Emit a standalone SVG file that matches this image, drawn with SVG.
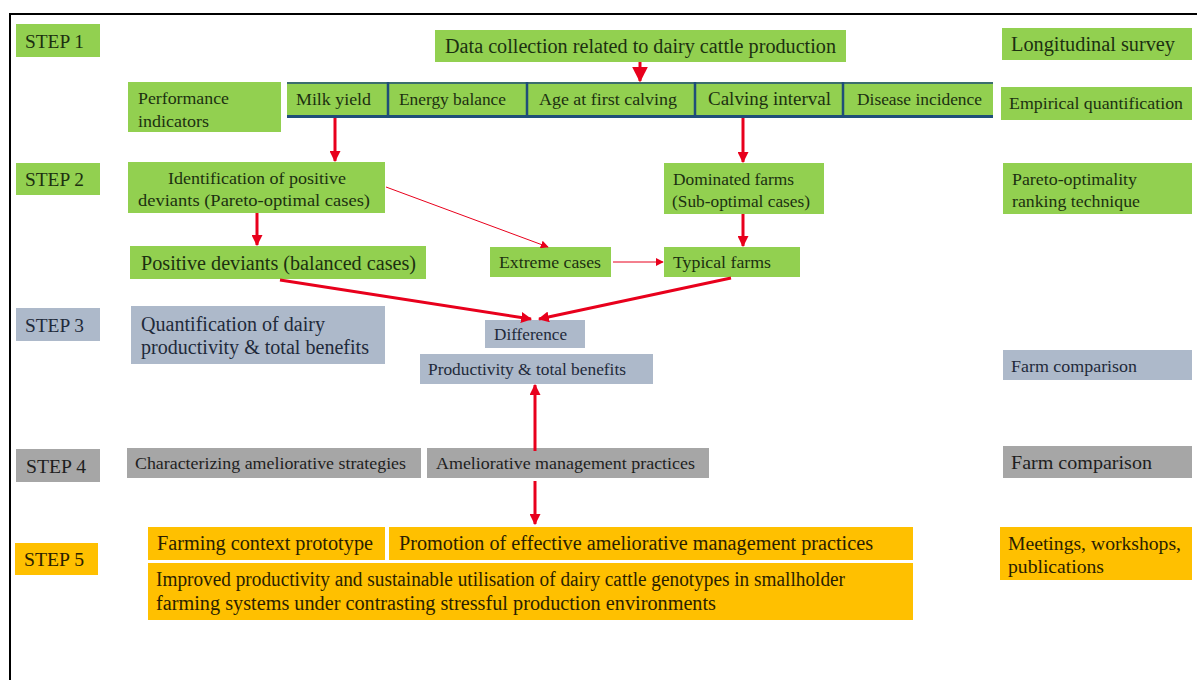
<svg xmlns="http://www.w3.org/2000/svg" width="1199" height="680" viewBox="0 0 1199 680">
<defs>
<style>
.g{fill:#92d050}
.b{fill:#adb9ca}
.k{fill:#a6a6a6}
.o{fill:#ffc000}
text{font-family:"Liberation Serif","Times New Roman",serif;fill:#1c3010}
.tb{fill:#1f2a3a}
.tk{fill:#1e1e1e}
.to{fill:#2a1e00}
.ln{stroke:#e8001c;fill:none}
.thick{stroke-width:3}
.thin{stroke-width:1}
.blue{stroke:#1f4e79;fill:none}
</style>
<marker id="ah" viewBox="0 0 10 10" refX="9" refY="5" markerWidth="11" markerHeight="11" markerUnits="userSpaceOnUse" orient="auto">
<path d="M0,0 L10,5 L0,10 z" fill="#e8001c"/>
</marker>
<marker id="ahs" viewBox="0 0 10 10" refX="9" refY="5" markerWidth="8" markerHeight="8" markerUnits="userSpaceOnUse" orient="auto">
<path d="M0,0 L10,5 L0,10 z" fill="#e8001c"/>
</marker>
<marker id="ahb" viewBox="0 0 10 10" refX="9" refY="5" markerWidth="16" markerHeight="16" markerUnits="userSpaceOnUse" orient="auto">
<path d="M0,0 L10,5 L0,10 z" fill="#e8001c"/>
</marker>
</defs>
<rect width="1199" height="680" fill="#ffffff"/>
<path d="M10,690 L10,14 L1197,14" stroke="#000" stroke-width="2" fill="none"/>

<g id="step1"><rect class="g" x="16" y="24" width="84" height="33"/><text x="25" y="48" font-size="19" textLength="59" lengthAdjust="spacingAndGlyphs">STEP 1</text></g>
<g id="data"><rect class="g" x="435" y="30" width="411" height="32"/><text x="445" y="53" font-size="20" textLength="391" lengthAdjust="spacingAndGlyphs">Data collection related to dairy cattle production</text></g>
<g id="longitudinal"><rect class="g" x="1002" y="28" width="190" height="32"/><text x="1011" y="51" font-size="20" textLength="164" lengthAdjust="spacingAndGlyphs">Longitudinal survey</text></g>

<g id="performance"><rect class="g" x="128" y="82" width="153" height="50"/><text x="138" y="104" font-size="17" textLength="91" lengthAdjust="spacingAndGlyphs">Performance</text><text x="138" y="127" font-size="17" textLength="71" lengthAdjust="spacingAndGlyphs">indicators</text></g>
<g id="indicators">
<rect class="g" x="287" y="82" width="706" height="35"/>
<path class="blue" d="M287,83 L993,83" stroke-width="1.5"/>
<path class="blue" d="M287,116.5 L993,116.5" stroke-width="3"/>
<path class="blue" d="M388,82 L388,117 M527,82 L527,117 M695,82 L695,117 M843,82 L843,117" stroke-width="2.5"/>
<text x="296" y="105" font-size="17" textLength="75" lengthAdjust="spacingAndGlyphs">Milk yield</text>
<text x="399" y="105" font-size="17" textLength="107" lengthAdjust="spacingAndGlyphs">Energy balance</text>
<text x="539" y="105" font-size="17" textLength="138" lengthAdjust="spacingAndGlyphs">Age at first calving</text>
<text x="708" y="105" font-size="18" textLength="123" lengthAdjust="spacingAndGlyphs">Calving interval</text>
<text x="857" y="105" font-size="16" textLength="125" lengthAdjust="spacingAndGlyphs">Disease incidence</text>
</g>
<g id="empirical"><rect class="g" x="1001" y="87" width="191" height="33"/><text x="1009" y="109" font-size="17" textLength="174" lengthAdjust="spacingAndGlyphs">Empirical quantification</text></g>

<g id="step2"><rect class="g" x="16" y="163" width="84" height="32"/><text x="25" y="186" font-size="19" textLength="59" lengthAdjust="spacingAndGlyphs">STEP 2</text></g>
<g id="identification"><rect class="g" x="128" y="162" width="257" height="51"/><text x="168" y="184" font-size="17" textLength="178" lengthAdjust="spacingAndGlyphs">Identification of positive</text><text x="138" y="206" font-size="17" textLength="232" lengthAdjust="spacingAndGlyphs">deviants (Pareto-optimal cases)</text></g>
<g id="dominated"><rect class="g" x="664" y="163" width="160" height="51"/><text x="673" y="185" font-size="17" textLength="121" lengthAdjust="spacingAndGlyphs">Dominated farms</text><text x="672" y="207" font-size="17" textLength="138" lengthAdjust="spacingAndGlyphs">(Sub-optimal cases)</text></g>
<g id="pareto"><rect class="g" x="1003" y="163" width="189" height="51"/><text x="1012" y="185" font-size="17" textLength="125" lengthAdjust="spacingAndGlyphs">Pareto-optimality</text><text x="1012" y="207" font-size="17" textLength="128" lengthAdjust="spacingAndGlyphs">ranking technique</text></g>

<g id="positive"><rect class="g" x="130" y="246" width="296" height="33"/><text x="141" y="270" font-size="20" textLength="275" lengthAdjust="spacingAndGlyphs">Positive deviants (balanced cases)</text></g>
<g id="extreme"><rect class="g" x="490" y="247" width="121" height="30"/><text x="499" y="268" font-size="17" textLength="102" lengthAdjust="spacingAndGlyphs">Extreme cases</text></g>
<g id="typical"><rect class="g" x="664" y="247" width="136" height="30"/><text x="673" y="268" font-size="17" textLength="98" lengthAdjust="spacingAndGlyphs">Typical farms</text></g>

<g id="step3"><rect class="b" x="16" y="308" width="84" height="33"/><text class="tb" x="25" y="332" font-size="19" textLength="59" lengthAdjust="spacingAndGlyphs">STEP 3</text></g>
<g id="quantification"><rect class="b" x="131" y="306" width="254" height="58"/><text class="tb" x="141" y="331" font-size="20" textLength="184" lengthAdjust="spacingAndGlyphs">Quantification of dairy</text><text class="tb" x="141" y="354" font-size="20" textLength="228" lengthAdjust="spacingAndGlyphs">productivity &amp; total benefits</text></g>
<g id="difference"><rect class="b" x="485" y="320" width="100" height="28"/><text class="tb" x="494" y="340" font-size="17" textLength="73" lengthAdjust="spacingAndGlyphs">Difference</text></g>
<g id="productivity"><rect class="b" x="420" y="354" width="233" height="30"/><text class="tb" x="428" y="375" font-size="17" textLength="198" lengthAdjust="spacingAndGlyphs">Productivity &amp; total benefits</text></g>
<g id="farmcomp3"><rect class="b" x="1003" y="350" width="189" height="30"/><text class="tb" x="1011" y="372" font-size="17" textLength="126" lengthAdjust="spacingAndGlyphs">Farm comparison</text></g>

<g id="step4"><rect class="k" x="16" y="449" width="84" height="33"/><text class="tk" x="26" y="473" font-size="19" textLength="60" lengthAdjust="spacingAndGlyphs">STEP 4</text></g>
<g id="characterizing"><rect class="k" x="127" y="448" width="294" height="30"/><text class="tk" x="135" y="469" font-size="17" textLength="271" lengthAdjust="spacingAndGlyphs">Characterizing ameliorative strategies</text></g>
<g id="ameliorative"><rect class="k" x="427" y="448" width="282" height="30"/><text class="tk" x="436" y="469" font-size="17" textLength="259" lengthAdjust="spacingAndGlyphs">Ameliorative management practices</text></g>
<g id="farmcomp4"><rect class="k" x="1003" y="446" width="189" height="32"/><text class="tk" x="1011" y="469" font-size="19" textLength="141" lengthAdjust="spacingAndGlyphs">Farm comparison</text></g>

<g id="step5"><rect class="o" x="15" y="543" width="83" height="32"/><text class="to" x="24" y="566" font-size="19" textLength="60" lengthAdjust="spacingAndGlyphs">STEP 5</text></g>
<g id="prototype"><rect class="o" x="148" y="527" width="237" height="33"/><text class="to" x="157" y="550" font-size="20" textLength="216" lengthAdjust="spacingAndGlyphs">Farming context prototype</text></g>
<g id="promotion"><rect class="o" x="389" y="527" width="524" height="33"/><text class="to" x="399" y="550" font-size="20" textLength="474" lengthAdjust="spacingAndGlyphs">Promotion of effective ameliorative management practices</text></g>
<g id="improved"><rect class="o" x="148" y="563" width="765" height="57"/><text class="to" x="156" y="586" font-size="20" textLength="689" lengthAdjust="spacingAndGlyphs">Improved productivity and sustainable utilisation of dairy cattle genotypes in smallholder</text><text class="to" x="156" y="610" font-size="20" textLength="560" lengthAdjust="spacingAndGlyphs">farming systems under contrasting stressful production environments</text></g>
<g id="meetings"><rect class="o" x="1000" y="527" width="192" height="53"/><text class="to" x="1008" y="550" font-size="19" textLength="173" lengthAdjust="spacingAndGlyphs">Meetings, workshops,</text><text class="to" x="1008" y="573" font-size="19" textLength="96" lengthAdjust="spacingAndGlyphs">publications</text></g>

<g id="connectors">
<path class="ln thick" d="M640,62 L640,81" marker-end="url(#ahb)"/>
<path class="ln thick" d="M335,118 L335,161" marker-end="url(#ah)"/>
<path class="ln thick" d="M743,118 L743,162" marker-end="url(#ah)"/>
<path class="ln thick" d="M257,213 L257,245" marker-end="url(#ah)"/>
<path class="ln thick" d="M743,214 L743,246" marker-end="url(#ah)"/>
<path class="ln thin" d="M386,187 L548,247" marker-end="url(#ahs)"/>
<path class="ln thin" d="M613,262 L663,262" marker-end="url(#ahs)"/>
<path class="ln thick" d="M280,280 L531,319" marker-end="url(#ah)"/>
<path class="ln thick" d="M731,278 L539,319" marker-end="url(#ah)"/>
<path class="ln thick" d="M535,451 L535,385" marker-end="url(#ah)"/>
<path class="ln thick" d="M535,481 L535,524" marker-end="url(#ah)"/>
</g>
</svg>
